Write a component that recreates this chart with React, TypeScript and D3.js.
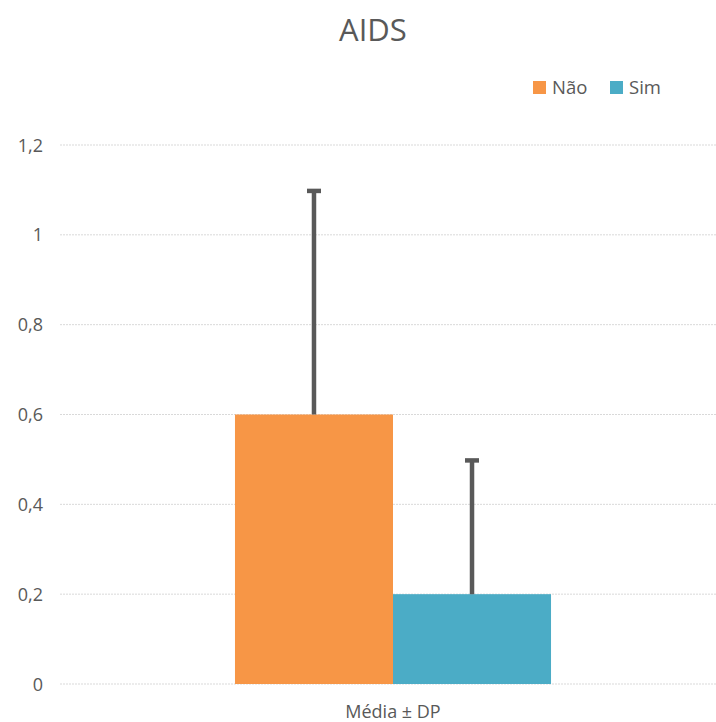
import React from "react";
import * as d3 from "d3";

const categories = ["Média ± DP"];
const seriesNames = ["Não", "Sim"];
const means = [0.6, 0.2];
const sds = [0.5, 0.3];
const yTicks = [0, 0.2, 0.4, 0.6, 0.8, 1, 1.2];
const colors = ["#F79646", "#4BACC6"];

export default function App() {
  const W = 716, H = 722;
  const left = 60, right = 716, top = 145, bottom = 684;
  const y = d3.scaleLinear().domain([0, 1.2]).range([bottom, top]);
  const x0 = d3.scaleBand().domain(categories).range([70, right]).paddingInner(0).paddingOuter(0.522);
  const x1 = d3.scaleBand().domain(seriesNames).range([0, x0.bandwidth()]).padding(0);
  const fmt = (v: number) => String(v).replace(".", ",");
  const font = "'Open Sans', 'Noto Sans', sans-serif";
  const text = "#595959";
  return (
    <svg width={W} height={H} style={{ position: "absolute", left: 0, top: 0, background: "#fff" }}>
      <text x={373} y={41} textAnchor="middle" fontFamily={font} fontSize={31} fill={text}>AIDS</text>
      {yTicks.map((t) => (
        <g key={t}>
          <line x1={left} x2={right} y1={y(t)} y2={y(t)} stroke="#D9D9D9" strokeWidth={1} strokeDasharray="2,1" />
          <text x={43} y={y(t) + 6.5} textAnchor="end" fontFamily={font} fontSize={18} fill={text}>{fmt(t)}</text>
        </g>
      ))}
      {categories.map((c) => (
        <g key={c} transform={`translate(${x0(c)},0)`}>
          {seriesNames.map((s, i) => {
            const bx = x1(s)!;
            const bw = x1.bandwidth();
            const cx = bx + bw / 2;
            const topV = means[i] + sds[i];
            return (
              <g key={s}>
                <rect x={bx} y={y(means[i])} width={bw} height={bottom - y(means[i])} fill={colors[i]} />
                <line x1={cx} x2={cx} y1={y(means[i])} y2={y(topV)} stroke="#595959" strokeWidth={4.5} />
                <line x1={cx - 7} x2={cx + 7} y1={y(topV) + 1} y2={y(topV) + 1} stroke="#595959" strokeWidth={4.5} />
              </g>
            );
          })}
          <text x={x0.bandwidth() / 2} y={718} textAnchor="middle" fontFamily={font} fontSize={18} fill={text}>{c}</text>
        </g>
      ))}
      {seriesNames.map((s, i) => {
        const lx = [533, 610][i];
        return (
          <g key={s}>
            <rect x={lx} y={81} width={13} height={13} fill={colors[i]} />
            <text x={lx + 19} y={94} fontFamily={font} fontSize={18.5} fill={text}>{s}</text>
          </g>
        );
      })}
    </svg>
  );
}
